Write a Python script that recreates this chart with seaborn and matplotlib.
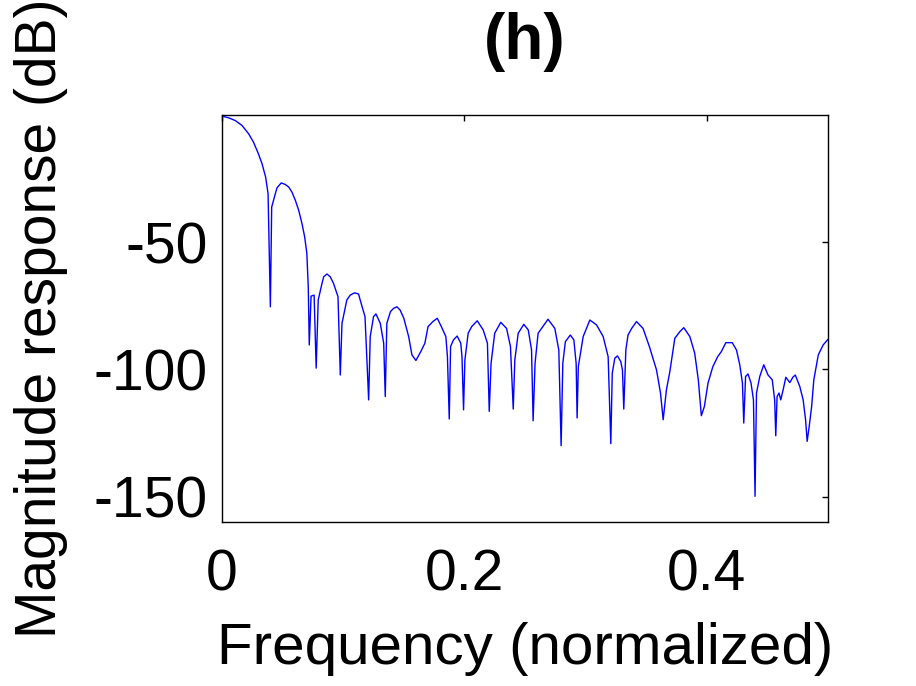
import matplotlib
matplotlib.use("Agg")
import matplotlib.pyplot as plt
import seaborn as sns
import pandas as pd

# normalized frequency and magnitude (dB)
freq = [0.0, 0.0014, 0.0055, 0.011, 0.0165, 0.022, 0.026, 0.030, 0.033, 0.036,
        0.038, 0.0399, 0.041, 0.044, 0.0454, 0.0489, 0.0522, 0.055, 0.0577, 0.0605,
        0.0633, 0.066, 0.0682, 0.070, 0.0712, 0.072, 0.0735, 0.076, 0.0777,
        0.0794, 0.0825, 0.0839, 0.0866, 0.0893, 0.092, 0.0957, 0.0976, 0.099, 0.103,
        0.1058, 0.1094, 0.1127, 0.114,
        0.118, 0.121, 0.1223, 0.125, 0.127, 0.1306, 0.1334, 0.1347, 0.136, 0.139,
        0.1416, 0.1443, 0.147, 0.150, 0.154, 0.1567, 0.160, 0.164, 0.1674, 0.170, 0.174, 0.1776,
        0.181, 0.1847, 0.186, 0.1875, 0.1886, 0.191, 0.194, 0.197, 0.198, 0.1993,
        0.2004, 0.2031, 0.206, 0.2106, 0.2155, 0.219, 0.2205, 0.222, 0.225, 0.230,
        0.2348, 0.238, 0.2403, 0.2416, 0.2444, 0.249, 0.2527, 0.2554, 0.2567, 0.2583,
        0.2608, 0.269, 0.2746, 0.2779, 0.2798, 0.2812, 0.2833, 0.2874, 0.2903, 0.2922,
        0.293, 0.294, 0.298, 0.3035, 0.309, 0.3145, 0.3186, 0.3208, 0.322, 0.3241,
        0.3263, 0.329, 0.3304, 0.3315, 0.3332, 0.335, 0.338, 0.342, 0.3474, 0.3526,
        0.3585, 0.3618, 0.364, 0.3667, 0.3695, 0.3736, 0.3777, 0.381, 0.386, 0.390,
        0.393, 0.3955, 0.398, 0.401, 0.405, 0.409, 0.412, 0.4157, 0.421, 0.4245,
        0.4272, 0.4294, 0.4305, 0.432, 0.434, 0.4365, 0.4385, 0.4398, 0.441, 0.4437,
        0.447, 0.4505, 0.454, 0.456, 0.4569, 0.458, 0.4596, 0.461, 0.463, 0.4652,
        0.4685, 0.471, 0.473, 0.4767, 0.4795, 0.4815, 0.4828, 0.4845, 0.4865, 0.4883,
        0.492, 0.496, 0.500]
mag_db = [0.0, -0.6, -1.1, -2.2, -4.1, -7.4, -10.7, -15.2, -19.1, -24.4,
          -30.9, -75.4, -36.2, -30.9, -28.6, -26.7, -27.3, -28.3, -30.3, -33.5,
          -37.5, -42.7, -47.9, -54.4, -68.0, -90.4, -71.2, -70.8, -99.5,
          -72.7, -66.2, -63.6, -62.5, -63.6, -66.2, -71.4, -102.2, -81.9, -72.7,
          -70.8, -69.9, -70.4, -72.7,
          -79.3, -112.0, -87.1, -79.3, -78.2, -81.9, -89.7, -110.7, -81.9, -77.3,
          -76.0, -75.4, -76.7, -79.9, -87.1, -94.3, -96.5, -93.0, -89.7, -83.2, -81.2, -79.9,
          -83.2, -87.1, -95.0, -119.5, -91.0, -88.4, -86.9, -89.7, -95.0, -115.9,
          -96.3, -85.8, -83.2, -80.9, -84.5, -89.7, -116.5, -97.6, -85.8, -81.5,
          -83.9, -91.0, -115.6, -96.3, -85.8, -82.3, -84.5, -92.4, -120.2, -97.6,
          -85.8, -80.3, -83.9, -92.4, -130.0, -97.6, -89.1, -86.5, -88.4, -97.6,
          -119.1, -98.9, -87.1, -80.6, -82.5, -87.1, -95.0, -129.2, -101.5, -95.6,
          -94.7, -96.9, -100.2, -115.6, -92.4, -86.5, -83.9, -81.2, -83.9, -91.0,
          -100.2, -109.3, -119.8, -108.0, -100.9, -87.8, -85.2, -83.6, -87.1, -93.6,
          -104.1, -118.2, -114.6, -105.4, -98.9, -95.0, -93.0, -89.5, -89.5, -92.4,
          -98.2, -105.4, -121.1, -102.8, -101.8, -105.4, -112.0, -149.9, -109.3, -102.8,
          -98.2, -102.2, -104.1, -112.0, -126.1, -110.7, -109.3, -112.0, -108.0, -103.1,
          -105.2, -103.1, -102.2, -106.7, -112.0, -119.8, -128.3, -122.4, -114.6, -104.1,
          -94.3, -90.4, -88.2]

x_ticks = [0, 0.2, 0.4]
x_tick_labels = ['0', '0.2', '0.4']
y_ticks = [-150, -100, -50]
y_tick_labels = ['-150', '-100', '-50']

df = pd.DataFrame({'freq': freq, 'mag': mag_db})

sns.set_style("white")
plt.rcParams['font.family'] = ['Liberation Sans', 'DejaVu Sans']
plt.rcParams['axes.unicode_minus'] = False
plt.rcParams['text.color'] = 'black'
plt.rcParams['axes.labelcolor'] = 'black'

fig = plt.figure(figsize=(9.16, 6.86), dpi=100)
ax = fig.add_axes([222 / 916, 1 - 522 / 686, 606 / 916, 407 / 686])

sns.lineplot(data=df, x='freq', y='mag', ax=ax, color='#0000ff',
             linewidth=1.0, sort=False, estimator=None)

ax.set_xlim(0, 0.5)
ax.set_ylim(-160, 0)
ax.set_xticks(x_ticks)
ax.set_xticklabels(x_tick_labels)
ax.set_yticks(y_ticks)
ax.set_yticklabels(y_tick_labels)

for side in ['left', 'right', 'top', 'bottom']:
    ax.spines[side].set_visible(True)
    ax.spines[side].set_color('black')
    ax.spines[side].set_linewidth(1.0)

ax.tick_params(axis='both', direction='in', length=4, width=1.0, color='black',
               top=True, right=True, labelsize=41, labelcolor='black')
ax.tick_params(axis='x', pad=19)
ax.tick_params(axis='y', pad=10.5)

ax.set_xlabel('Frequency (normalized)', fontsize=42, labelpad=14, color='black')
ax.set_ylabel('Magnitude response (dB)', fontsize=41, labelpad=18, color='black')
ax.set_title('(h)', fontsize=46, fontweight='bold', pad=40, color='black')

fig.savefig('out.png', dpi=100)
